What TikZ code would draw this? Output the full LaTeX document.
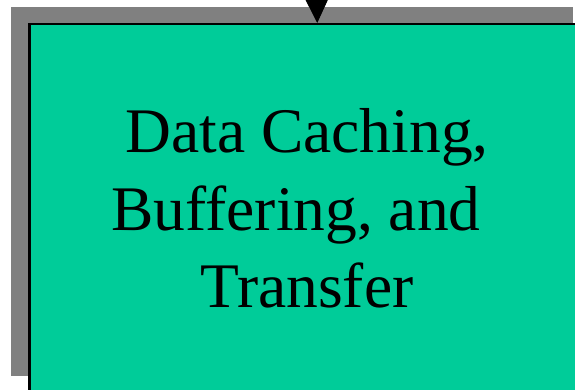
\documentclass[tikz,border=0pt]{standalone}
\usepackage{fontspec}
\setmainfont{Liberation Serif}
\usetikzlibrary{arrows.meta}
\definecolor{boxgreen}{RGB}{0,204,153}
\definecolor{shadowgray}{RGB}{128,128,128}
\begin{document}
\begin{tikzpicture}[x=1pt,y=-1pt,
  shadowbox/.style={fill=shadowgray,draw=none},
  mainbox/.style={fill=boxgreen,draw=black,line width=2.5pt},
  boxtext/.style={font=\fontsize{63.5}{77}\selectfont,anchor=base,inner sep=0pt},
  flow/.style={-{Triangle[width=22pt,length=23pt]},line width=1pt}]
\useasboundingbox (0,0) rectangle (575,390);
\clip (0,0) rectangle (575,390);
\fill[shadowbox] (11,7) rectangle (573,376);
\node[mainbox,minimum width=576pt,minimum height=400pt,anchor=north west,inner sep=0pt] (box) at (28,23) {};
\coordinate (src) at (316,-40);
\draw[flow] (src) -- (box.north);
\node[boxtext] (l1) at (307,153) {Data Caching,};
\node[boxtext] (l2) at (296,230) {Buffering, and};
\node[boxtext] (l3) at (307,307) {Transfer};
\end{tikzpicture}
\end{document}
